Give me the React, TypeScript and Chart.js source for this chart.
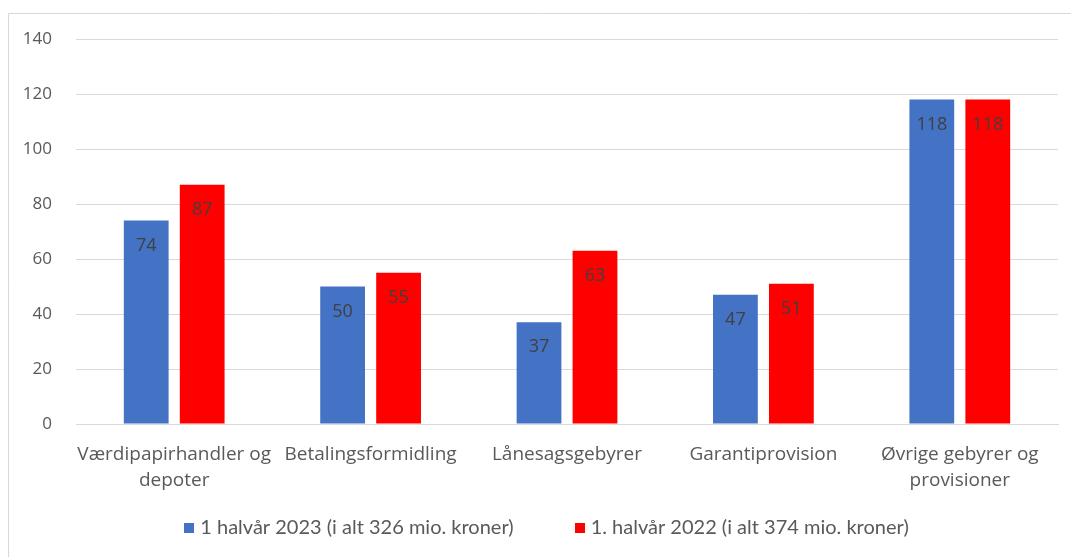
import React, { useEffect, useRef } from "react";
import { Chart, registerables } from "chart.js";

Chart.register(...registerables);

const categories: (string | string[])[] = [
  ["Værdipapirhandler og", "depoter"],
  "Betalingsformidling",
  "Lånesagsgebyrer",
  "Garantiprovision",
  ["Øvrige gebyrer og", "provisioner"],
];
const series2023Label = "1 halvår 2023 (i alt 326 mio. kroner)";
const series2022Label = "1. halvår 2022 (i alt 374 mio. kroner)";
const values2023 = [74, 50, 37, 47, 118];
const values2022 = [87, 55, 63, 51, 118];
const yMin = 0;
const yMax = 140;
const yStep = 20;

const AXIS_FONT = "'Open Sans', sans-serif";
const LEGEND_FONT = "Lato, sans-serif";

const dataLabelPlugin = {
  id: "dataLabels",
  afterDatasetsDraw(chart: any) {
    const ctx = chart.ctx;
    ctx.save();
    ctx.font = `18px ${AXIS_FONT}`;
    ctx.fillStyle = "#404040";
    ctx.textAlign = "center";
    ctx.textBaseline = "middle";
    chart.data.datasets.forEach((ds: any, i: number) => {
      const meta = chart.getDatasetMeta(i);
      meta.data.forEach((bar: any, j: number) => {
        ctx.fillText(String(ds.data[j]), bar.x, bar.y + 25);
      });
    });
    ctx.restore();
  },
};

const legendPlugin = {
  id: "customLegend",
  afterDraw(chart: any) {
    const ctx = chart.ctx;
    ctx.save();
    ctx.font = `20px ${LEGEND_FONT}`;
    ctx.textBaseline = "middle";
    ctx.textAlign = "left";
    const box = 10;
    const gap = 6;
    const itemGap = 61;
    const items = chart.data.datasets.map((ds: any) => ({
      text: ds.label,
      color: ds.backgroundColor,
      w: ctx.measureText(ds.label).width,
    }));
    const total =
      items.reduce((s: number, it: any) => s + box + gap + it.w, 0) +
      itemGap * (items.length - 1);
    const cx = 546.5;
    const cy = 527.5;
    let x = cx - total / 2;
    items.forEach((it: any) => {
      ctx.fillStyle = it.color;
      ctx.fillRect(Math.round(x), Math.round(cy - box / 2), box, box);
      x += box + gap;
      ctx.fillStyle = "#595959";
      ctx.fillText(it.text, x, cy);
      x += it.w + itemGap;
    });
    ctx.restore();
  },
};

const borderPlugin = {
  id: "frame",
  beforeDraw(chart: any) {
    const ctx = chart.ctx;
    ctx.save();
    ctx.strokeStyle = "#D9D9D9";
    ctx.lineWidth = 1;
    ctx.beginPath();
    ctx.moveTo(8.5, chart.height);
    ctx.lineTo(8.5, 13.5);
    ctx.lineTo(chart.width, 13.5);
    ctx.stroke();
    ctx.restore();
  },
};

export default function App() {
  const ref = useRef<HTMLCanvasElement | null>(null);
  useEffect(() => {
    if (!ref.current) return;
    const chart = new Chart(ref.current, {
      type: "bar",
      data: {
        labels: categories,
        datasets: [
          {
            label: series2023Label,
            data: values2023,
            backgroundColor: "#4472C4",
            borderWidth: 0,
          },
          {
            label: series2022Label,
            data: values2022,
            backgroundColor: "#FF0000",
            borderWidth: 0,
          },
        ],
      },
      options: {
        animation: false,
        responsive: false,
        maintainAspectRatio: false,
        layout: { padding: { left: 10, right: 13, top: 39, bottom: 43 } },
        datasets: {
          bar: { categoryPercentage: 0.57, barPercentage: 0.8 },
        },
        plugins: {
          legend: { display: false },
          tooltip: { enabled: false },
        },
        scales: {
          x: {
            grid: { display: false, drawTicks: false },
            border: { display: true, color: "#D9D9D9" },
            ticks: {
              color: "#595959",
              font: { family: AXIS_FONT, size: 19, lineHeight: 1.4 },
              maxRotation: 0,
              minRotation: 0,
              autoSkip: false,
              padding: 17,
            },
            afterFit(scale: any) {
              scale.height = 90;
            },
          },
          y: {
            min: yMin,
            max: yMax,
            grid: { color: "#D9D9D9", drawTicks: false },
            border: { display: false },
            ticks: {
              stepSize: yStep,
              color: "#595959",
              font: { family: AXIS_FONT, size: 17 },
              padding: 24,
            },
            afterFit(scale: any) {
              scale.width = 66;
            },
          },
        },
      },
      plugins: [dataLabelPlugin, borderPlugin, legendPlugin],
    });
    return () => chart.destroy();
  }, []);
  return (
    <div style={{ position: "absolute", left: 0, top: 0, width: 1071, height: 557, background: "#fff" }}>
      <canvas ref={ref} width={1071} height={557} style={{ display: "block" }} />
    </div>
  );
}
